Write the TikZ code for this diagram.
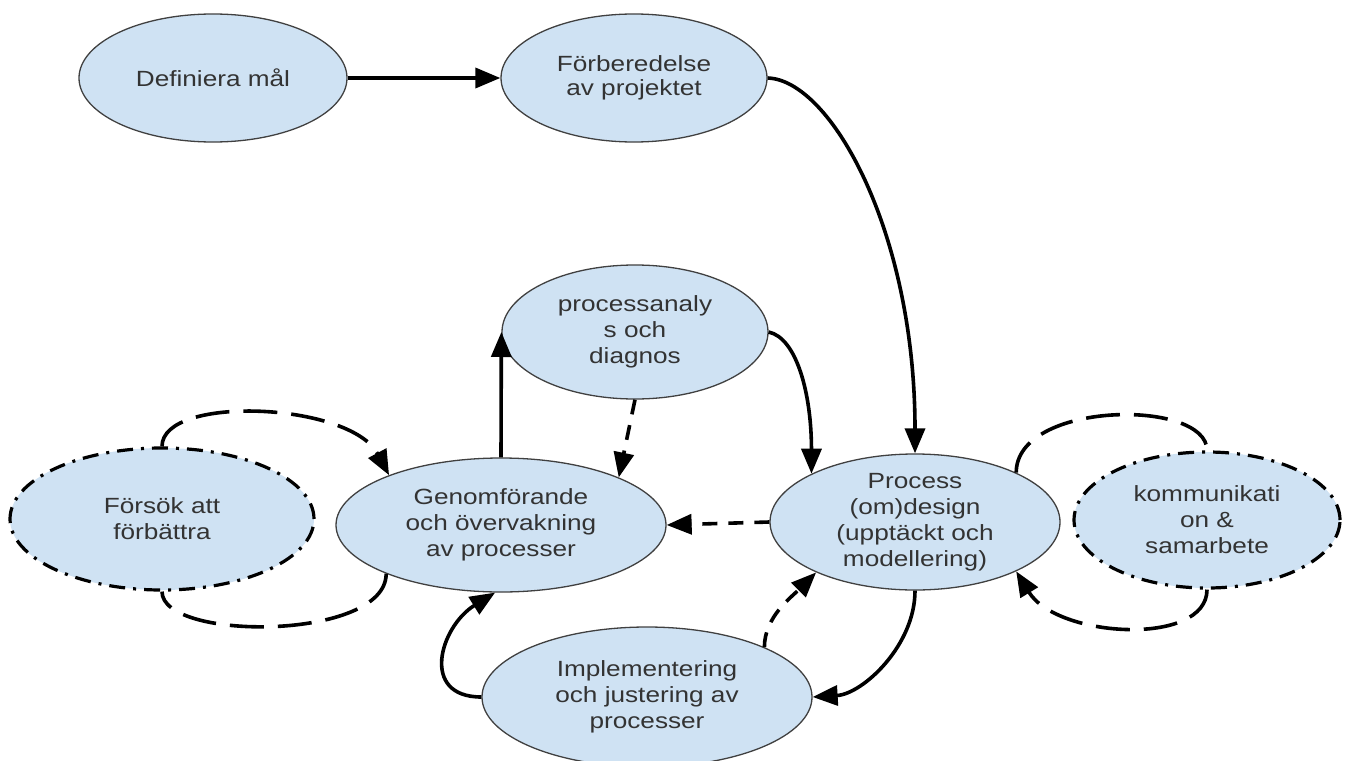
\documentclass[tikz,border=0pt]{standalone}
\usepackage{fontspec}
\setmainfont{Liberation Sans}[FakeStretch=1.19]
\usetikzlibrary{shapes.geometric,arrows.meta}
\definecolor{nodefill}{HTML}{CFE2F3}
\definecolor{nodeline}{HTML}{404040}
\definecolor{txt}{HTML}{333333}
\begin{document}
\begin{tikzpicture}[x=1pt,y=-1pt,
  >={Triangle[length=25pt,width=20pt]},
  box/.style={ellipse, fill=nodefill, draw=nodeline, line width=1.3pt, inner sep=0pt,
    align=center, text=txt, font=\fontsize{22}{26}\selectfont},
  dotbox/.style={box, draw=black, line width=3.2pt, dash pattern=on 16pt off 8pt on 3pt off 8pt},
  conn/.style={line width=3.6pt, ->},
  dconn/.style={conn, dash pattern=on 15pt off 11pt},
  looparc/.style={line width=3.6pt, dash pattern=on 34pt off 14pt},
]
\useasboundingbox (0,0) rectangle (1348,760);

\node[box, minimum width=268pt, minimum height=128pt] (def) at (213,78) {Definiera mål};
\node[box, minimum width=266pt, minimum height=128pt, font=\fontsize{22}{24}\selectfont] (forb) at (634,78) {Förberedelse\\av projektet};
\node[box, minimum width=266pt, minimum height=134pt] (pa) at (635,332) {processanaly\\s och\\diagnos};
\node[box, minimum width=330pt, minimum height=134pt] (gen) at (501,525) {Genomförande\\och övervakning\\av processer};
\node[box, minimum width=290pt, minimum height=136pt, inner ysep=-4pt] (proc) at (915,522) {Process\\(om)design\\(upptäckt och\\modellering)};
\node[dotbox, minimum width=304pt, minimum height=142pt] (foer) at (162,519) {Försök att\\förbättra};
\node[dotbox, minimum width=266pt, minimum height=136pt] (kom) at (1207,520) {kommunikati\\on \&\\samarbete};
\node[box, minimum width=330pt, minimum height=140pt] (impl) at (647,697) {Implementering\\och justering av\\processer};

% solid connectors
\draw[conn] (def.east) -- (forb.west);
\draw[conn] (forb.east) .. controls +(63,2) and +(0,-222) .. (proc.north);
\draw[conn] (pa.east) .. controls +(28,6) and +(0,-80) .. (proc.155);
\draw[conn] (gen.north) -- (pa.west);
\draw[conn] (proc.south) .. controls +(0,55) and +(50,-3) .. (impl.east);
\draw[conn] (impl.west) .. controls +(-62,0) and +(-55,34) .. (gen.265);

% dashed connectors
\draw[dconn] (pa.south) -- (gen.22);
\draw[dconn] (proc.west) -- (gen.east);
\draw[dconn] (impl.23.5) .. controls +(0,-30) and +(-25,25) .. (proc.207);

% loops
\draw[looparc, ->] (foer.north) .. controls +(0,-52) and +(-39,-73) .. (gen.156);
\draw[looparc] (gen.203) .. controls +(0,67) and +(0,50) .. (foer.south);
\draw[looparc] (proc.26) .. controls +(0,-72) and +(0,-52) .. (kom.north);
\draw[looparc, ->] (kom.south) .. controls +(0,57) and +(41,67) .. (proc.334);
\end{tikzpicture}
\end{document}
